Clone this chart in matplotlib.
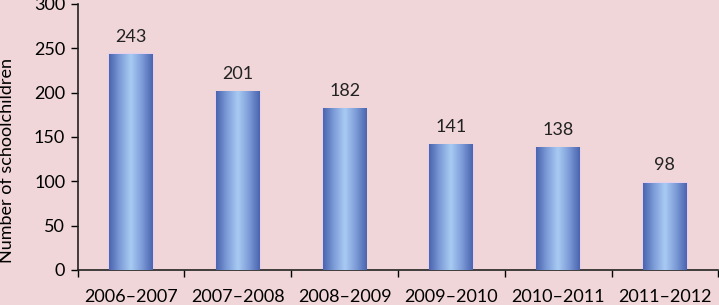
import matplotlib
matplotlib.use("Agg")
import matplotlib.pyplot as plt
import numpy as np
from matplotlib.colors import LinearSegmentedColormap

categories = ["2006–2007", "2007–2008", "2008–2009", "2009–2010", "2010–2011", "2011–2012"]
values = [243, 201, 182, 141, 138, 98]
ylabel = "Number of schoolchildren"

plt.rcParams['font.family'] = ['Lato', 'DejaVu Sans']
bg = "#F0D6D8"
fig = plt.figure(figsize=(7.19, 3.05), dpi=100, facecolor=bg)
ax = fig.add_axes([0.108, 0.115, 0.891, 0.872], facecolor=bg)

x = np.arange(len(categories))
bars = ax.bar(x, values, width=0.41, color="none", edgecolor="#E8D0EC", linewidth=1.5, zorder=2)

cmap = LinearSegmentedColormap.from_list("g", ["#4A64AE", "#7D9CD8", "#A8CBF2", "#7D9CD8", "#4A64AE"])
grad = np.linspace(0, 1, 256).reshape(1, -1)
fs = 13
for b in bars:
    x0, w, h = b.get_x(), b.get_width(), b.get_height()
    im = ax.imshow(grad, cmap=cmap, aspect="auto", extent=[x0, x0 + w, 0, h], zorder=3)
    ax.annotate(f"{h:.0f}", (x0 + w / 2, h), xytext=(0, 7), textcoords="offset points",
                ha="center", va="bottom", fontsize=fs, color="#222222")

ax.set_xlim(-0.5, len(categories) - 0.5)
ax.set_ylim(0, 300)
ax.set_yticks(np.arange(0, 301, 50))
ax.set_xticks(x)
ax.set_xticklabels(categories, fontsize=fs)
ax.set_xticks(np.arange(-0.5, len(categories), 1), minor=True)
ax.tick_params(axis="x", which="major", length=0, pad=14)
ax.tick_params(axis="x", which="minor", length=5, direction="out", width=1)
ax.tick_params(axis="y", labelsize=fs, length=5, width=1, pad=4)
ax.set_ylabel(ylabel, fontsize=fs)
ax.yaxis.set_label_coords(-0.098, 0.41)
for s in ["top", "right"]:
    ax.spines[s].set_visible(False)
for s in ["left", "bottom"]:
    ax.spines[s].set_color("#222222")
    ax.spines[s].set_linewidth(1.2)

fig.savefig("out.png", dpi=100, facecolor=bg)
